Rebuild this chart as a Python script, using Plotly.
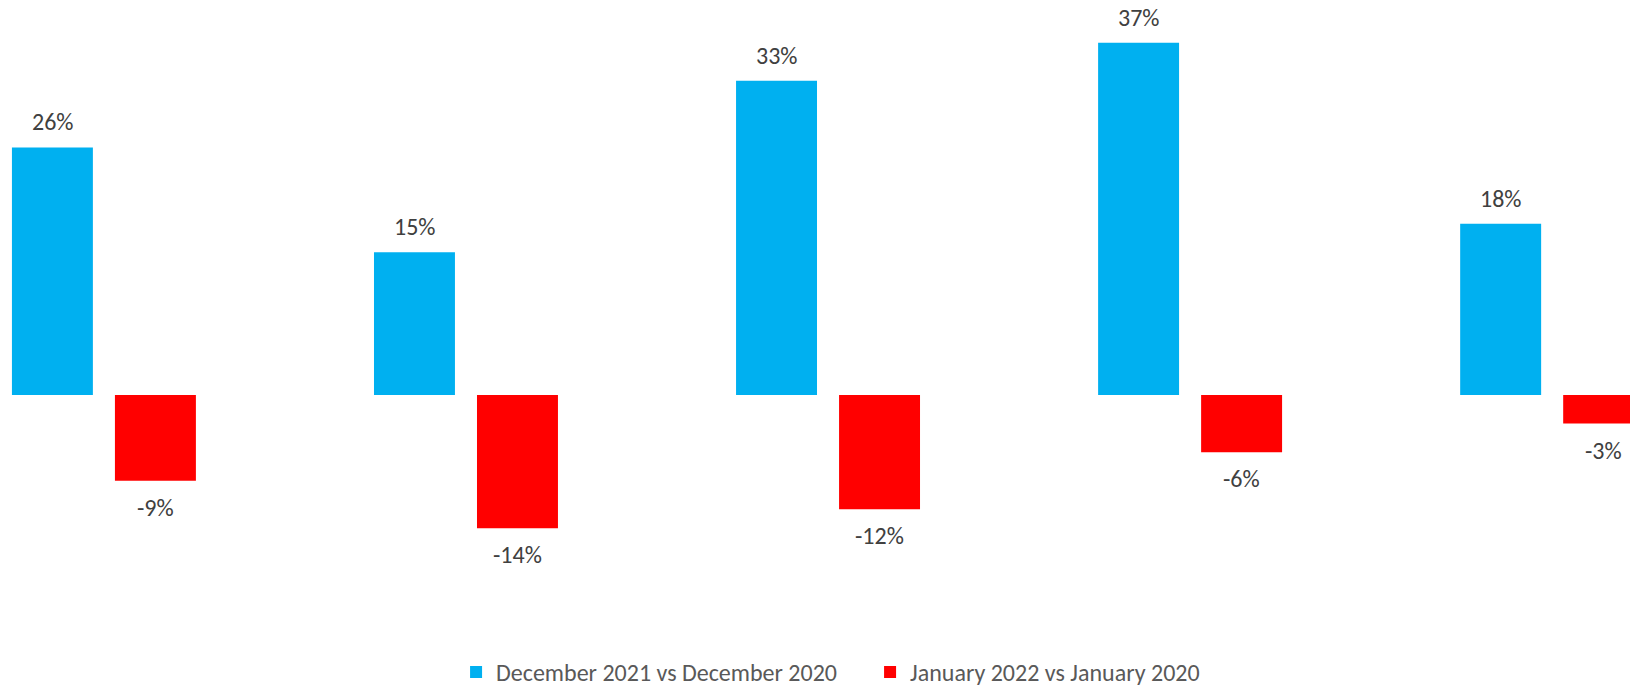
import plotly.graph_objects as go

categories = ["Group 1", "Group 2", "Group 3", "Group 4", "Group 5"]
dec_vs_dec = [26, 15, 33, 37, 18]
jan_vs_jan = [-9, -14, -12, -6, -3]
series_names = ["December 2021 vs December 2020", "January 2022 vs January 2020"]
labels_dec = ["26%", "15%", "33%", "37%", "18%"]
labels_jan = ["-9%", "-14%", "-12%", "-6%", "-3%"]

BLUE = "#00B0F0"
RED = "#FF0000"
FONT = "Carlito, Liberation Sans Narrow, Open Sans, sans-serif"
BARGAP = 0.431
BARGROUPGAP = 0.214

fig = go.Figure()
fig.add_trace(go.Bar(x=categories, y=dec_vs_dec, name=series_names[0],
                     marker=dict(color=BLUE, line=dict(width=0))))
fig.add_trace(go.Bar(x=categories, y=jan_vs_jan, name=series_names[1],
                     marker=dict(color=RED, line=dict(width=0))))

slot = (1 - BARGAP) / 2
offset = slot / 2
annotations = []
for i, (v, t) in enumerate(zip(dec_vs_dec, labels_dec)):
    annotations.append(dict(x=i - offset, y=v, text=t, showarrow=False,
                            yanchor="bottom", yshift=9,
                            font=dict(family=FONT, size=24, color="#404040")))
for i, (v, t) in enumerate(zip(jan_vs_jan, labels_jan)):
    annotations.append(dict(x=i + offset, y=v, text=t, showarrow=False,
                            yanchor="top", yshift=-10,
                            font=dict(family=FONT, size=24, color="#404040")))

fig.update_layout(
    width=1630, height=686,
    margin=dict(l=0, r=0, t=0, b=86),
    paper_bgcolor="white", plot_bgcolor="white",
    barmode="group", bargap=BARGAP, bargroupgap=BARGROUPGAP,
    xaxis=dict(visible=False, range=[-0.287, 4.215]),
    yaxis=dict(visible=False, range=[-21.53, 41.49]),
    annotations=annotations,
    showlegend=True,
    legend=dict(orientation="h", x=0.2798, xanchor="left",
                yref="container", y=0.02, yanchor="middle",
                font=dict(family=FONT, size=24, color="#595959"),
                itemwidth=30, entrywidth=369, entrywidthmode="pixels",
                traceorder="normal"),
    font=dict(family=FONT),
)

fig.write_html("out.html", config={"displayModeBar": False},
               post_script="document.body.style.margin='0';document.body.style.overflow='hidden';")
